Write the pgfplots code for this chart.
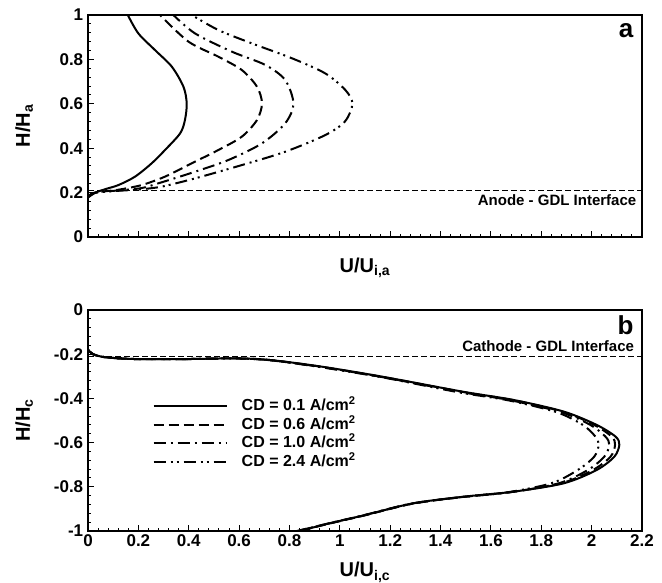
\documentclass[border=0pt]{standalone}
\usepackage{pgfplots}
\pgfplotsset{compat=1.18}
\usepackage{fontspec}
\setmainfont{Liberation Sans}
\begin{document}
\begin{tikzpicture}[font=\bfseries]
\useasboundingbox (0,0) rectangle (662pt,583pt);
\pgfplotsset{
  myaxis/.style={
    scale only axis, width=554pt,
    line width=1.6pt,
    xmin=0, xmax=2.2,
    xtick={0,0.2,0.4,0.6,0.8,1,1.2,1.4,1.6,1.8,2,2.2},
    minor x tick num=4, minor y tick num=4,
    tick align=inside, xtick pos=bottom, ytick pos=left,
    major tick length=6pt, minor tick length=3.2pt,
    every tick/.append style={black, line width=1pt},
    /pgf/number format/assume math mode=true,
    tick label style={font=\bfseries\fontsize{17}{20}\selectfont},
    xticklabel style={inner sep=3pt},
    yticklabel style={inner sep=4pt},
    label style={font=\bfseries\fontsize{20}{24}\selectfont},
    c1/.style={line width=2pt, solid},
    c2/.style={line width=2pt, dash pattern=on 10pt off 5pt},
    c3/.style={line width=2pt, dash pattern=on 12pt off 5pt on 2pt off 5pt},
    c4/.style={line width=2pt, dash pattern=on 12pt off 5pt on 2pt off 4pt on 2pt off 5pt},
    iface/.style={line width=1.6pt, dash pattern=on 6pt off 3pt},
  }
}
% ---------------- panel a ----------------
\begin{axis}[myaxis, height=222pt, at={(88pt,346pt)}, anchor=south west,
  ymin=0, ymax=1, ytick={0,0.2,0.4,0.6,0.8,1},
  xticklabels={},
  xlabel={U/U\textsubscript{i,a}},
  xlabel style={at={(axis description cs:0.5,-0.158)}, anchor=base},
  ylabel={H/H\textsubscript{a}},
  ylabel style={at={(axis description cs:-0.105,0.5)}, anchor=base},
]
\addplot[forget plot, iface] coordinates {(0,0.21) (2.2,0.21)};
\addplot[c1, smooth] coordinates {
(0,0.178) (0.03,0.2) (0.07,0.216) (0.121,0.234) (0.187,0.272) (0.253,0.332) (0.306,0.392)
(0.366,0.467) (0.385,0.527) (0.392,0.602) (0.379,0.677) (0.333,0.767) (0.266,0.842) (0.2,0.917) (0.158,1.0)};
\addplot[c2, smooth] coordinates {
(0,0.178) (0.03,0.2) (0.121,0.213) (0.213,0.234) (0.306,0.272) (0.412,0.332) (0.518,0.392) (0.611,0.452)
(0.671,0.527) (0.691,0.602) (0.671,0.677) (0.611,0.752) (0.518,0.812) (0.399,0.880) (0.286,1.0)};
\addplot[c3, smooth] coordinates {
(0,0.178) (0.03,0.2) (0.2,0.218) (0.28,0.242) (0.425,0.294) (0.558,0.347) (0.691,0.422) (0.783,0.512)
(0.816,0.6) (0.783,0.707) (0.704,0.775) (0.571,0.835) (0.425,0.917) (0.339,1.0)};
\addplot[c4, smooth] coordinates {
(0,0.178) (0.03,0.2) (0.2,0.214) (0.293,0.227) (0.425,0.264) (0.611,0.324) (0.783,0.384) (0.942,0.459)
(1.02,0.52) (1.05,0.6) (1.022,0.662) (0.942,0.737) (0.810,0.805) (0.651,0.872) (0.518,0.932) (0.412,1.0)};
\node[anchor=base east, font=\bfseries\fontsize{26}{30}\selectfont, inner sep=0pt] at (axis description cs:0.986,0.90) {a};
\node[anchor=base east, font=\bfseries\fontsize{15}{18}\selectfont, inner sep=0pt] at (axis description cs:0.991,0.14) {Anode - GDL Interface};
\end{axis}
% ---------------- panel b ----------------
\begin{axis}[myaxis, height=221pt, at={(88pt,52pt)}, anchor=south west,
  ymin=-1, ymax=0, ytick={-1,-0.8,-0.6,-0.4,-0.2,0},
  xlabel={U/U\textsubscript{i,c}},
  xlabel style={at={(axis description cs:0.5,-0.208)}, anchor=base},
  ylabel={H/H\textsubscript{c}},
  ylabel style={at={(axis description cs:-0.105,0.5)}, anchor=base},
  legend cell align=left,
  legend style={at={(axis description cs:0.110,0.615)}, anchor=north west, draw=none, fill=none,
    font=\bfseries\fontsize{16}{19}\selectfont, row sep=1.5pt,
    nodes={inner sep=1pt, text height=12pt, text depth=3pt},
    /tikz/every odd column/.append style={column sep=13pt}},
  legend image code/.code={\draw[#1] (0pt,0pt) -- (73pt,0pt);},
]
\addplot[forget plot, iface] coordinates {(0,-0.21) (2.2,-0.21)};
\addplot[c1, smooth] coordinates {
(0,-0.18) (0.02,-0.200) (0.07,-0.214) (0.19,-0.222) (0.39,-0.222) (0.58,-0.219) (0.72,-0.226) (0.92,-0.255)
(1.17,-0.302) (1.49,-0.370) (1.69,-0.407) (1.89,-0.460) (2.02,-0.520) (2.095,-0.573) (2.11,-0.610)
(2.09,-0.664) (2.02,-0.724) (1.89,-0.784) (1.69,-0.822) (1.49,-0.845) (1.29,-0.875) (1.10,-0.928)
(0.96,-0.965) (0.84,-1.0)};
\addlegendentry{CD = 0.1 A/cm\textsuperscript{2}}
\addplot[c2, smooth] coordinates {
(0,-0.18) (0.02,-0.200) (0.07,-0.214) (0.19,-0.222) (0.39,-0.222) (0.58,-0.219) (0.72,-0.226) (0.92,-0.256)
(1.17,-0.303) (1.49,-0.371) (1.69,-0.408) (1.89,-0.462) (2.01,-0.520) (2.08,-0.573) (2.093,-0.610)
(2.075,-0.664) (2.005,-0.724) (1.88,-0.784) (1.685,-0.823) (1.49,-0.846) (1.29,-0.876) (1.10,-0.929)
(0.96,-0.966) (0.84,-1.0)};
\addlegendentry{CD = 0.6 A/cm\textsuperscript{2}}
\addplot[c3, smooth] coordinates {
(0,-0.18) (0.02,-0.200) (0.07,-0.214) (0.19,-0.222) (0.39,-0.222) (0.58,-0.219) (0.72,-0.227) (0.92,-0.257)
(1.17,-0.304) (1.48,-0.371) (1.68,-0.409) (1.88,-0.463) (1.995,-0.520) (2.055,-0.573) (2.07,-0.610)
(2.05,-0.664) (1.985,-0.724) (1.87,-0.784) (1.68,-0.824) (1.48,-0.847) (1.28,-0.877) (1.09,-0.930)
(0.95,-0.967) (0.83,-1.0)};
\addlegendentry{CD = 1.0 A/cm\textsuperscript{2}}
\addplot[c4, smooth] coordinates {
(0,-0.18) (0.02,-0.200) (0.07,-0.214) (0.19,-0.222) (0.39,-0.222) (0.58,-0.219) (0.72,-0.227) (0.92,-0.258)
(1.17,-0.305) (1.47,-0.372) (1.67,-0.409) (1.86,-0.462) (1.965,-0.520) (2.015,-0.573) (2.028,-0.610)
(2.01,-0.664) (1.945,-0.724) (1.84,-0.784) (1.66,-0.826) (1.47,-0.848) (1.28,-0.878) (1.09,-0.931)
(0.95,-0.968) (0.83,-1.0)};
\addlegendentry{CD = 2.4 A/cm\textsuperscript{2}}
\node[anchor=base east, font=\bfseries\fontsize{26}{30}\selectfont, inner sep=0pt] at (axis description cs:0.986,0.887) {b};
\node[anchor=base east, font=\bfseries\fontsize{15}{18}\selectfont, inner sep=0pt] at (axis description cs:0.987,0.814) {Cathode - GDL Interface};
\end{axis}
\end{tikzpicture}
\end{document}
